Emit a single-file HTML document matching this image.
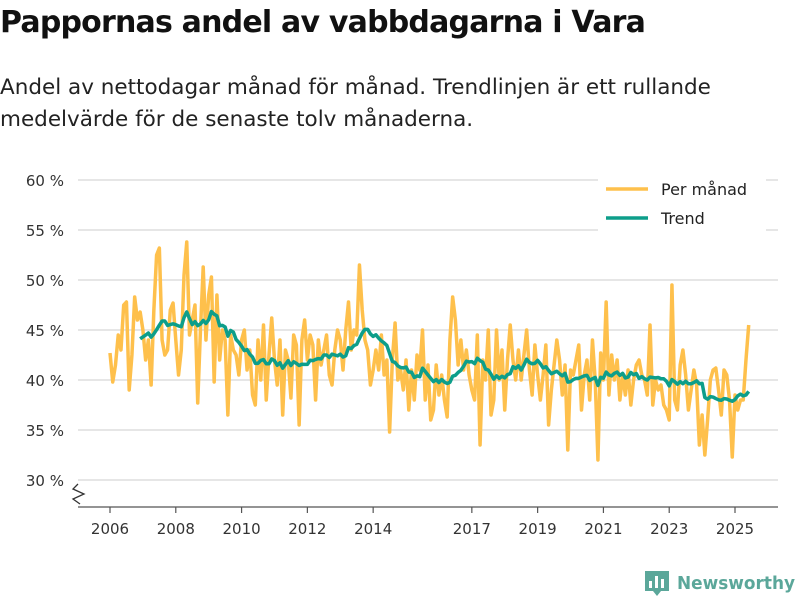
<!DOCTYPE html>
<html><head><meta charset="utf-8"><style>
body{margin:0;width:800px;height:600px;background:#fff;font-family:"Liberation Sans","DejaVu Sans",sans-serif;overflow:hidden;position:relative}
h1{position:absolute;left:0;top:5px;margin:0;font-size:30px;font-weight:bold;color:#111;font-family:"DejaVu Sans","Liberation Sans",sans-serif;letter-spacing:-0.8px}
.sub{position:absolute;left:0;top:72px;font-size:21.5px;line-height:32px;color:#222;font-family:"DejaVu Sans","Liberation Sans",sans-serif;letter-spacing:0px}
svg text{font-family:"DejaVu Sans","Liberation Sans",sans-serif}
</style></head><body>
<h1>Pappornas andel av vabbdagarna i Vara</h1>
<div class="sub">Andel av nettodagar månad för månad. Trendlinjen är ett rullande<br>medelvärde för de senaste tolv månaderna.</div>
<svg id="chart" width="800" height="600" style="position:absolute;left:0;top:0"></svg>
<script>
const startYear = 2006;
const monthly = [
42.7,39.8,41.5,44.5,43,47.5,47.8,39,42.5,48.3,46,46.8,
45,42,44,39.5,47,52.5,53.2,44,42.5,43,47,47.7,
44,40.5,43,50.5,53.8,44.5,46,47.5,37.7,45,51.3,44,
48.5,50.3,39.8,48.5,42,45,44,36.5,44.5,43,42.5,40.5,
44,45,41,43,38.5,37.5,44,40,45.5,38,42.5,46.2,
42,39.5,44,36.5,43,42,38.2,44.5,43.5,35.5,44,46,
42,44.5,43.5,38,44,41.5,43,44.5,40.5,39.5,43,45,
44,41,45,47.8,43,45,44.5,51.5,47,44,43,39.5,
41,43,41,44.5,40.5,42,34.8,42,45.7,40,41,39,
42,37,41,38,42.5,41,45,38,41.5,36,37,41.5,
38.5,40.5,38,36.3,44,48.3,46,41.5,44,41,43,40.5,
39,38,44.5,33.5,42,40,45,36.5,38,45,40,43,
37,42,45.5,42,40,43,40,42.5,45,41,38.5,43.5,
40.5,38,40.5,43.5,35.5,39,41.5,44,42,38.5,41.5,33,
41,40.5,42,43.5,37,40.5,42,38,44,40,32,42.7,
40,47.8,38.5,42.5,40,42,38,40.5,38.5,41,37.5,40,
41.5,42,40.5,40,38.5,45.5,37.5,40,39,39.5,37.5,37,
36,49.5,38,37,41.5,43,40.5,37,39,41,39.5,33.5,
36.5,32.5,36,40,41,41.2,39,36.5,41,40.5,38,32.3,
38.5,37,38,38,42,45.5];
const yTicks = [30,35,40,45,50,55,60];
const xTickYears = [2006,2008,2010,2012,2014,2017,2019,2021,2023,2025];
const trend = monthly.map((v,i)=> i<11 ? null : monthly.slice(i-11,i+1).reduce((a,b)=>a+b,0)/12);

const svg = document.getElementById('chart');
const NS='http://www.w3.org/2000/svg';
const x0=110, pxPerYear=625/19;
const xs = m => x0 + m*pxPerYear/12;
const xYear = y => x0 + (y-startYear)*pxPerYear;
const ys = v => 480 - (v-30)*10;
function mk(tag, attrs, parent){const e=document.createElementNS(NS,tag);for(const k in attrs)e.setAttribute(k,attrs[k]);(parent||svg).appendChild(e);return e;}

yTicks.forEach(t=>{
  const g=mk('line',{x1:78,x2:778,y1:ys(t),y2:ys(t),stroke:'#ddd','stroke-width':1.5});
  
  
  const l=mk('text',{x:64,y:ys(t)+6,'text-anchor':'end','font-size':15,fill:'#333'});
  l.textContent=t+' %';
  
  
});
const ax=mk('line',{x1:78,x2:778,y1:507,y2:507,stroke:'#555','stroke-width':1.2});


const br=mk('path',{d:'M78,484 L73,489 L84,494 L73,499 L80,504',fill:'none',stroke:'#333','stroke-width':1.3});


xTickYears.forEach(y=>{
  const x=xYear(y);
  const t=mk('line',{x1:x,x2:x,y1:507,y2:513,stroke:'#555','stroke-width':1.2});
  
  
  const l=mk('text',{x:x,y:534,'text-anchor':'middle','font-size':15,fill:'#333'});
  l.textContent=y;
  
  
});
const mp=mk('polyline',{points:monthly.map((v,i)=>xs(i)+','+ys(v)).join(' '),fill:'none',stroke:'#fec04c','stroke-width':3.5,'stroke-linejoin':'round'});


const tp=mk('polyline',{points:trend.map((v,i)=>v==null?null:xs(i)+','+ys(v)).filter(Boolean).join(' '),fill:'none',stroke:'#0d9e8a','stroke-width':3.5,'stroke-linejoin':'round'});



const lg=mk('g',{});


mk('rect',{x:598,y:176,width:168,height:56,fill:'#fff'},lg);
const e1=mk('g',{},lg);


mk('line',{x1:606,x2:648,y1:189,y2:189,stroke:'#fec04c','stroke-width':3.5},e1);
const t1=mk('text',{x:661,y:195,'font-size':16,fill:'#222'},e1);t1.textContent='Per månad';
const e2=mk('g',{},lg);


mk('line',{x1:606,x2:648,y1:218,y2:218,stroke:'#0d9e8a','stroke-width':3.5},e2);
const t2=mk('text',{x:661,y:224,'font-size':16,fill:'#222'},e2);t2.textContent='Trend';

const logo=mk('g',{});


mk('path',{d:'M645,571 h24 v20 h-8 l-4,5 l-4,-5 h-8 z',fill:'#5ba79a'},logo);
mk('rect',{x:649,y:581,width:3,height:7,fill:'#fff'},logo);
mk('rect',{x:655,y:576,width:3,height:12,fill:'#fff'},logo);
mk('rect',{x:661,y:579,width:3,height:9,fill:'#fff'},logo);
const lt=mk('text',{x:677,y:589,'font-size':17.5,'font-weight':'bold',fill:'#5ba79a',textLength:118,lengthAdjust:'spacingAndGlyphs'},logo);lt.textContent='Newsworthy';
</script>
</body></html>
